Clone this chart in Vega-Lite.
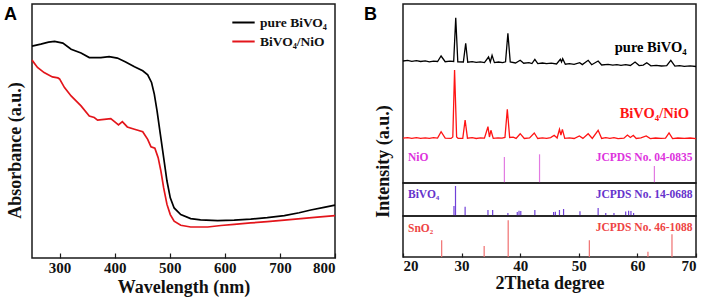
{
  "$schema": "https://vega.github.io/schema/vega-lite/v6.json",
  "padding": {"left": 3, "top": 3, "right": 0, "bottom": 0},
  "background": "white",
  "datasets": {
    "absorb": [
      {"wavelength": 250, "absorbance": 0.834, "sample": "pure BiVO₄"},
      {"wavelength": 266, "absorbance": 0.842, "sample": "pure BiVO₄"},
      {"wavelength": 280, "absorbance": 0.850, "sample": "pure BiVO₄"},
      {"wavelength": 291, "absorbance": 0.853, "sample": "pure BiVO₄"},
      {"wavelength": 306, "absorbance": 0.846, "sample": "pure BiVO₄"},
      {"wavelength": 321, "absorbance": 0.822, "sample": "pure BiVO₄"},
      {"wavelength": 339, "absorbance": 0.807, "sample": "pure BiVO₄"},
      {"wavelength": 354, "absorbance": 0.789, "sample": "pure BiVO₄"},
      {"wavelength": 375, "absorbance": 0.789, "sample": "pure BiVO₄"},
      {"wavelength": 390, "absorbance": 0.793, "sample": "pure BiVO₄"},
      {"wavelength": 405, "absorbance": 0.787, "sample": "pure BiVO₄"},
      {"wavelength": 420, "absorbance": 0.772, "sample": "pure BiVO₄"},
      {"wavelength": 436, "absorbance": 0.753, "sample": "pure BiVO₄"},
      {"wavelength": 451, "absorbance": 0.737, "sample": "pure BiVO₄"},
      {"wavelength": 460, "absorbance": 0.721, "sample": "pure BiVO₄"},
      {"wavelength": 467, "absorbance": 0.691, "sample": "pure BiVO₄"},
      {"wavelength": 472, "absorbance": 0.645, "sample": "pure BiVO₄"},
      {"wavelength": 477, "absorbance": 0.579, "sample": "pure BiVO₄"},
      {"wavelength": 483, "absorbance": 0.487, "sample": "pure BiVO₄"},
      {"wavelength": 489, "absorbance": 0.395, "sample": "pure BiVO₄"},
      {"wavelength": 495, "absorbance": 0.303, "sample": "pure BiVO₄"},
      {"wavelength": 501, "absorbance": 0.237, "sample": "pure BiVO₄"},
      {"wavelength": 508, "absorbance": 0.197, "sample": "pure BiVO₄"},
      {"wavelength": 520, "absorbance": 0.171, "sample": "pure BiVO₄"},
      {"wavelength": 538, "absorbance": 0.155, "sample": "pure BiVO₄"},
      {"wavelength": 556, "absorbance": 0.150, "sample": "pure BiVO₄"},
      {"wavelength": 587, "absorbance": 0.147, "sample": "pure BiVO₄"},
      {"wavelength": 617, "absorbance": 0.149, "sample": "pure BiVO₄"},
      {"wavelength": 647, "absorbance": 0.153, "sample": "pure BiVO₄"},
      {"wavelength": 677, "absorbance": 0.159, "sample": "pure BiVO₄"},
      {"wavelength": 708, "absorbance": 0.167, "sample": "pure BiVO₄"},
      {"wavelength": 735, "absorbance": 0.178, "sample": "pure BiVO₄"},
      {"wavelength": 756, "absorbance": 0.189, "sample": "pure BiVO₄"},
      {"wavelength": 780, "absorbance": 0.199, "sample": "pure BiVO₄"},
      {"wavelength": 800, "absorbance": 0.208, "sample": "pure BiVO₄"},
      {"wavelength": 250, "absorbance": 0.779, "sample": "BiVO₄/NiO"},
      {"wavelength": 260, "absorbance": 0.750, "sample": "BiVO₄/NiO"},
      {"wavelength": 272, "absorbance": 0.730, "sample": "BiVO₄/NiO"},
      {"wavelength": 287, "absorbance": 0.713, "sample": "BiVO₄/NiO"},
      {"wavelength": 297, "absorbance": 0.709, "sample": "BiVO₄/NiO"},
      {"wavelength": 300, "absorbance": 0.705, "sample": "BiVO₄/NiO"},
      {"wavelength": 309, "absorbance": 0.671, "sample": "BiVO₄/NiO"},
      {"wavelength": 321, "absorbance": 0.638, "sample": "BiVO₄/NiO"},
      {"wavelength": 339, "absorbance": 0.599, "sample": "BiVO₄/NiO"},
      {"wavelength": 354, "absorbance": 0.559, "sample": "BiVO₄/NiO"},
      {"wavelength": 363, "absorbance": 0.553, "sample": "BiVO₄/NiO"},
      {"wavelength": 369, "absorbance": 0.543, "sample": "BiVO₄/NiO"},
      {"wavelength": 381, "absorbance": 0.546, "sample": "BiVO₄/NiO"},
      {"wavelength": 393, "absorbance": 0.549, "sample": "BiVO₄/NiO"},
      {"wavelength": 402, "absorbance": 0.533, "sample": "BiVO₄/NiO"},
      {"wavelength": 407, "absorbance": 0.524, "sample": "BiVO₄/NiO"},
      {"wavelength": 414, "absorbance": 0.537, "sample": "BiVO₄/NiO"},
      {"wavelength": 423, "absorbance": 0.516, "sample": "BiVO₄/NiO"},
      {"wavelength": 436, "absorbance": 0.507, "sample": "BiVO₄/NiO"},
      {"wavelength": 451, "absorbance": 0.497, "sample": "BiVO₄/NiO"},
      {"wavelength": 460, "absorbance": 0.467, "sample": "BiVO₄/NiO"},
      {"wavelength": 466, "absorbance": 0.438, "sample": "BiVO₄/NiO"},
      {"wavelength": 473, "absorbance": 0.432, "sample": "BiVO₄/NiO"},
      {"wavelength": 479, "absorbance": 0.395, "sample": "BiVO₄/NiO"},
      {"wavelength": 484, "absorbance": 0.342, "sample": "BiVO₄/NiO"},
      {"wavelength": 489, "absorbance": 0.276, "sample": "BiVO₄/NiO"},
      {"wavelength": 495, "absorbance": 0.211, "sample": "BiVO₄/NiO"},
      {"wavelength": 501, "absorbance": 0.171, "sample": "BiVO₄/NiO"},
      {"wavelength": 508, "absorbance": 0.145, "sample": "BiVO₄/NiO"},
      {"wavelength": 520, "absorbance": 0.129, "sample": "BiVO₄/NiO"},
      {"wavelength": 538, "absorbance": 0.122, "sample": "BiVO₄/NiO"},
      {"wavelength": 569, "absorbance": 0.122, "sample": "BiVO₄/NiO"},
      {"wavelength": 593, "absorbance": 0.128, "sample": "BiVO₄/NiO"},
      {"wavelength": 617, "absorbance": 0.132, "sample": "BiVO₄/NiO"},
      {"wavelength": 647, "absorbance": 0.138, "sample": "BiVO₄/NiO"},
      {"wavelength": 677, "absorbance": 0.143, "sample": "BiVO₄/NiO"},
      {"wavelength": 708, "absorbance": 0.149, "sample": "BiVO₄/NiO"},
      {"wavelength": 738, "absorbance": 0.155, "sample": "BiVO₄/NiO"},
      {"wavelength": 768, "absorbance": 0.161, "sample": "BiVO₄/NiO"},
      {"wavelength": 800, "absorbance": 0.167, "sample": "BiVO₄/NiO"}
    ],
    "xrd": [
      {"theta": 20.0, "intensity": 122.0, "sample": "pure BiVO₄"},
      {"theta": 20.8, "intensity": 122.6, "sample": "pure BiVO₄"},
      {"theta": 21.5, "intensity": 121.6, "sample": "pure BiVO₄"},
      {"theta": 22.3, "intensity": 122.3, "sample": "pure BiVO₄"},
      {"theta": 23.0, "intensity": 121.5, "sample": "pure BiVO₄"},
      {"theta": 23.8, "intensity": 122.1, "sample": "pure BiVO₄"},
      {"theta": 24.5, "intensity": 121.2, "sample": "pure BiVO₄"},
      {"theta": 25.2, "intensity": 121.9, "sample": "pure BiVO₄"},
      {"theta": 25.9, "intensity": 121.5, "sample": "pure BiVO₄"},
      {"theta": 26.5, "intensity": 127.0, "sample": "pure BiVO₄"},
      {"theta": 27.2, "intensity": 121.3, "sample": "pure BiVO₄"},
      {"theta": 28.0, "intensity": 121.8, "sample": "pure BiVO₄"},
      {"theta": 28.65, "intensity": 121.5, "sample": "pure BiVO₄"},
      {"theta": 29.0, "intensity": 165.3, "sample": "pure BiVO₄"},
      {"theta": 29.35, "intensity": 121.2, "sample": "pure BiVO₄"},
      {"theta": 30.3, "intensity": 121.0, "sample": "pure BiVO₄"},
      {"theta": 30.7, "intensity": 139.7, "sample": "pure BiVO₄"},
      {"theta": 31.05, "intensity": 120.8, "sample": "pure BiVO₄"},
      {"theta": 31.8, "intensity": 121.4, "sample": "pure BiVO₄"},
      {"theta": 32.5, "intensity": 120.6, "sample": "pure BiVO₄"},
      {"theta": 33.2, "intensity": 121.2, "sample": "pure BiVO₄"},
      {"theta": 33.9, "intensity": 120.4, "sample": "pure BiVO₄"},
      {"theta": 34.6, "intensity": 126.0, "sample": "pure BiVO₄"},
      {"theta": 34.9, "intensity": 121.0, "sample": "pure BiVO₄"},
      {"theta": 35.2, "intensity": 127.7, "sample": "pure BiVO₄"},
      {"theta": 35.6, "intensity": 120.4, "sample": "pure BiVO₄"},
      {"theta": 36.3, "intensity": 121.0, "sample": "pure BiVO₄"},
      {"theta": 37.0, "intensity": 120.3, "sample": "pure BiVO₄"},
      {"theta": 37.5, "intensity": 121.2, "sample": "pure BiVO₄"},
      {"theta": 37.9, "intensity": 149.7, "sample": "pure BiVO₄"},
      {"theta": 38.3, "intensity": 121.0, "sample": "pure BiVO₄"},
      {"theta": 39.2, "intensity": 120.0, "sample": "pure BiVO₄"},
      {"theta": 40.0, "intensity": 122.7, "sample": "pure BiVO₄"},
      {"theta": 40.6, "intensity": 119.8, "sample": "pure BiVO₄"},
      {"theta": 41.5, "intensity": 120.4, "sample": "pure BiVO₄"},
      {"theta": 42.0, "intensity": 119.5, "sample": "pure BiVO₄"},
      {"theta": 42.5, "intensity": 123.7, "sample": "pure BiVO₄"},
      {"theta": 43.0, "intensity": 119.4, "sample": "pure BiVO₄"},
      {"theta": 43.8, "intensity": 120.0, "sample": "pure BiVO₄"},
      {"theta": 44.5, "intensity": 119.3, "sample": "pure BiVO₄"},
      {"theta": 45.3, "intensity": 119.9, "sample": "pure BiVO₄"},
      {"theta": 46.2, "intensity": 119.0, "sample": "pure BiVO₄"},
      {"theta": 46.85, "intensity": 123.7, "sample": "pure BiVO₄"},
      {"theta": 47.05, "intensity": 121.0, "sample": "pure BiVO₄"},
      {"theta": 47.25, "intensity": 124.3, "sample": "pure BiVO₄"},
      {"theta": 47.7, "intensity": 118.8, "sample": "pure BiVO₄"},
      {"theta": 48.4, "intensity": 119.4, "sample": "pure BiVO₄"},
      {"theta": 49.2, "intensity": 118.6, "sample": "pure BiVO₄"},
      {"theta": 50.15, "intensity": 120.3, "sample": "pure BiVO₄"},
      {"theta": 50.6, "intensity": 118.4, "sample": "pure BiVO₄"},
      {"theta": 51.6, "intensity": 122.7, "sample": "pure BiVO₄"},
      {"theta": 52.2, "intensity": 118.3, "sample": "pure BiVO₄"},
      {"theta": 53.3, "intensity": 122.0, "sample": "pure BiVO₄"},
      {"theta": 53.9, "intensity": 118.0, "sample": "pure BiVO₄"},
      {"theta": 55.0, "intensity": 118.6, "sample": "pure BiVO₄"},
      {"theta": 55.8, "intensity": 117.9, "sample": "pure BiVO₄"},
      {"theta": 56.5, "intensity": 118.4, "sample": "pure BiVO₄"},
      {"theta": 57.2, "intensity": 117.7, "sample": "pure BiVO₄"},
      {"theta": 58.0, "intensity": 118.4, "sample": "pure BiVO₄"},
      {"theta": 58.8, "intensity": 117.5, "sample": "pure BiVO₄"},
      {"theta": 59.6, "intensity": 121.0, "sample": "pure BiVO₄"},
      {"theta": 60.3, "intensity": 117.4, "sample": "pure BiVO₄"},
      {"theta": 61.0, "intensity": 117.9, "sample": "pure BiVO₄"},
      {"theta": 61.6, "intensity": 120.3, "sample": "pure BiVO₄"},
      {"theta": 62.3, "intensity": 117.2, "sample": "pure BiVO₄"},
      {"theta": 63.2, "intensity": 117.7, "sample": "pure BiVO₄"},
      {"theta": 64.1, "intensity": 117.0, "sample": "pure BiVO₄"},
      {"theta": 65.0, "intensity": 117.3, "sample": "pure BiVO₄"},
      {"theta": 65.7, "intensity": 122.7, "sample": "pure BiVO₄"},
      {"theta": 66.4, "intensity": 116.9, "sample": "pure BiVO₄"},
      {"theta": 67.2, "intensity": 117.4, "sample": "pure BiVO₄"},
      {"theta": 68.0, "intensity": 116.7, "sample": "pure BiVO₄"},
      {"theta": 69.0, "intensity": 117.1, "sample": "pure BiVO₄"},
      {"theta": 70.0, "intensity": 116.5, "sample": "pure BiVO₄"},
      {"theta": 20.0, "intensity": 44.8, "sample": "BiVO₄/NiO"},
      {"theta": 20.8, "intensity": 45.4, "sample": "BiVO₄/NiO"},
      {"theta": 21.5, "intensity": 44.7, "sample": "BiVO₄/NiO"},
      {"theta": 22.3, "intensity": 45.3, "sample": "BiVO₄/NiO"},
      {"theta": 23.0, "intensity": 44.6, "sample": "BiVO₄/NiO"},
      {"theta": 23.8, "intensity": 45.2, "sample": "BiVO₄/NiO"},
      {"theta": 24.5, "intensity": 44.7, "sample": "BiVO₄/NiO"},
      {"theta": 25.2, "intensity": 45.3, "sample": "BiVO₄/NiO"},
      {"theta": 25.9, "intensity": 44.9, "sample": "BiVO₄/NiO"},
      {"theta": 26.5, "intensity": 51.3, "sample": "BiVO₄/NiO"},
      {"theta": 27.2, "intensity": 44.8, "sample": "BiVO₄/NiO"},
      {"theta": 28.2, "intensity": 44.6, "sample": "BiVO₄/NiO"},
      {"theta": 28.5, "intensity": 46.0, "sample": "BiVO₄/NiO"},
      {"theta": 28.8, "intensity": 113.0, "sample": "BiVO₄/NiO"},
      {"theta": 29.15, "intensity": 46.0, "sample": "BiVO₄/NiO"},
      {"theta": 29.4, "intensity": 44.7, "sample": "BiVO₄/NiO"},
      {"theta": 30.2, "intensity": 44.6, "sample": "BiVO₄/NiO"},
      {"theta": 30.6, "intensity": 63.0, "sample": "BiVO₄/NiO"},
      {"theta": 31.0, "intensity": 44.8, "sample": "BiVO₄/NiO"},
      {"theta": 31.8, "intensity": 45.3, "sample": "BiVO₄/NiO"},
      {"theta": 32.5, "intensity": 44.5, "sample": "BiVO₄/NiO"},
      {"theta": 33.2, "intensity": 45.2, "sample": "BiVO₄/NiO"},
      {"theta": 33.9, "intensity": 44.9, "sample": "BiVO₄/NiO"},
      {"theta": 34.5, "intensity": 56.3, "sample": "BiVO₄/NiO"},
      {"theta": 34.75, "intensity": 46.0, "sample": "BiVO₄/NiO"},
      {"theta": 35.0, "intensity": 52.7, "sample": "BiVO₄/NiO"},
      {"theta": 35.4, "intensity": 44.6, "sample": "BiVO₄/NiO"},
      {"theta": 36.2, "intensity": 45.2, "sample": "BiVO₄/NiO"},
      {"theta": 36.9, "intensity": 44.8, "sample": "BiVO₄/NiO"},
      {"theta": 37.4, "intensity": 45.5, "sample": "BiVO₄/NiO"},
      {"theta": 37.8, "intensity": 73.7, "sample": "BiVO₄/NiO"},
      {"theta": 38.2, "intensity": 45.5, "sample": "BiVO₄/NiO"},
      {"theta": 38.8, "intensity": 45.9, "sample": "BiVO₄/NiO"},
      {"theta": 39.3, "intensity": 44.6, "sample": "BiVO₄/NiO"},
      {"theta": 40.0, "intensity": 49.3, "sample": "BiVO₄/NiO"},
      {"theta": 40.7, "intensity": 44.5, "sample": "BiVO₄/NiO"},
      {"theta": 41.6, "intensity": 45.0, "sample": "BiVO₄/NiO"},
      {"theta": 42.4, "intensity": 50.0, "sample": "BiVO₄/NiO"},
      {"theta": 43.0, "intensity": 44.5, "sample": "BiVO₄/NiO"},
      {"theta": 43.8, "intensity": 45.1, "sample": "BiVO₄/NiO"},
      {"theta": 44.5, "intensity": 44.7, "sample": "BiVO₄/NiO"},
      {"theta": 45.2, "intensity": 45.4, "sample": "BiVO₄/NiO"},
      {"theta": 45.8, "intensity": 47.7, "sample": "BiVO₄/NiO"},
      {"theta": 46.3, "intensity": 45.0, "sample": "BiVO₄/NiO"},
      {"theta": 46.7, "intensity": 53.7, "sample": "BiVO₄/NiO"},
      {"theta": 46.95, "intensity": 48.0, "sample": "BiVO₄/NiO"},
      {"theta": 47.2, "intensity": 53.7, "sample": "BiVO₄/NiO"},
      {"theta": 47.6, "intensity": 44.6, "sample": "BiVO₄/NiO"},
      {"theta": 48.4, "intensity": 45.2, "sample": "BiVO₄/NiO"},
      {"theta": 49.2, "intensity": 44.5, "sample": "BiVO₄/NiO"},
      {"theta": 50.1, "intensity": 47.0, "sample": "BiVO₄/NiO"},
      {"theta": 50.7, "intensity": 44.6, "sample": "BiVO₄/NiO"},
      {"theta": 51.6, "intensity": 49.3, "sample": "BiVO₄/NiO"},
      {"theta": 52.3, "intensity": 44.6, "sample": "BiVO₄/NiO"},
      {"theta": 53.3, "intensity": 52.7, "sample": "BiVO₄/NiO"},
      {"theta": 53.9, "intensity": 44.5, "sample": "BiVO₄/NiO"},
      {"theta": 54.6, "intensity": 45.3, "sample": "BiVO₄/NiO"},
      {"theta": 55.3, "intensity": 44.7, "sample": "BiVO₄/NiO"},
      {"theta": 56.0, "intensity": 45.4, "sample": "BiVO₄/NiO"},
      {"theta": 56.7, "intensity": 44.4, "sample": "BiVO₄/NiO"},
      {"theta": 57.7, "intensity": 44.8, "sample": "BiVO₄/NiO"},
      {"theta": 58.3, "intensity": 48.0, "sample": "BiVO₄/NiO"},
      {"theta": 58.8, "intensity": 45.5, "sample": "BiVO₄/NiO"},
      {"theta": 59.3, "intensity": 47.7, "sample": "BiVO₄/NiO"},
      {"theta": 59.8, "intensity": 44.5, "sample": "BiVO₄/NiO"},
      {"theta": 60.6, "intensity": 45.1, "sample": "BiVO₄/NiO"},
      {"theta": 61.5, "intensity": 47.0, "sample": "BiVO₄/NiO"},
      {"theta": 62.2, "intensity": 44.4, "sample": "BiVO₄/NiO"},
      {"theta": 63.1, "intensity": 45.0, "sample": "BiVO₄/NiO"},
      {"theta": 64.0, "intensity": 44.6, "sample": "BiVO₄/NiO"},
      {"theta": 64.8, "intensity": 44.8, "sample": "BiVO₄/NiO"},
      {"theta": 65.4, "intensity": 50.0, "sample": "BiVO₄/NiO"},
      {"theta": 66.0, "intensity": 44.4, "sample": "BiVO₄/NiO"},
      {"theta": 66.9, "intensity": 45.0, "sample": "BiVO₄/NiO"},
      {"theta": 68.0, "intensity": 44.6, "sample": "BiVO₄/NiO"},
      {"theta": 69.0, "intensity": 45.0, "sample": "BiVO₄/NiO"},
      {"theta": 70.0, "intensity": 44.3, "sample": "BiVO₄/NiO"}
    ],
    "xrdLabels": [
      {"sample": "pure BiVO₄", "theta": 68.4, "intensity": 135},
      {"sample": "BiVO₄/NiO", "theta": 68.8, "intensity": 69}
    ],
    "nio": [
      {"theta": 37.3, "intensity": 26},
      {"theta": 43.3, "intensity": 28.7},
      {"theta": 62.9, "intensity": 17}
    ],
    "bivo4": [
      {"theta": 28.7, "intensity": 10},
      {"theta": 28.96, "intensity": 30},
      {"theta": 30.6, "intensity": 9.3},
      {"theta": 34.5, "intensity": 6},
      {"theta": 35.3, "intensity": 6},
      {"theta": 37.9, "intensity": 3},
      {"theta": 39.5, "intensity": 4},
      {"theta": 39.8, "intensity": 5.3},
      {"theta": 40.1, "intensity": 5},
      {"theta": 42.5, "intensity": 6},
      {"theta": 45.7, "intensity": 4},
      {"theta": 46.0, "intensity": 4.3},
      {"theta": 46.7, "intensity": 6},
      {"theta": 47.4, "intensity": 7},
      {"theta": 50.2, "intensity": 4.7},
      {"theta": 53.3, "intensity": 8},
      {"theta": 54.6, "intensity": 3},
      {"theta": 56.0, "intensity": 3},
      {"theta": 58.0, "intensity": 4.5},
      {"theta": 58.5, "intensity": 5.3},
      {"theta": 58.9, "intensity": 5},
      {"theta": 59.35, "intensity": 3}
    ],
    "sno2": [
      {"theta": 26.6, "intensity": 16.7},
      {"theta": 33.85, "intensity": 11},
      {"theta": 37.95, "intensity": 36.7},
      {"theta": 51.8, "intensity": 16.7},
      {"theta": 61.8, "intensity": 5.3},
      {"theta": 65.9, "intensity": 22.7}
    ],
    "cards": [
      {"panel": "NiO", "text": "NiO", "side": "left", "theta": 20.85, "level": 25},
      {"panel": "NiO", "text": "JCPDS No. 04-0835", "side": "right", "theta": 69.4, "level": 25},
      {"panel": "BiVO4", "text": "BiVO₄", "side": "left", "theta": 20.85, "level": 21},
      {"panel": "BiVO4", "text": "JCPDS No. 14-0688", "side": "right", "theta": 69.4, "level": 21},
      {"panel": "SnO2", "text": "SnO₂", "side": "left", "theta": 20.85, "level": 28},
      {"panel": "SnO2", "text": "JCPDS No. 46-1088", "side": "right", "theta": 69.4, "level": 29}
    ]
  },
  "config": {
    "view": {"stroke": "#1a1a1a", "strokeWidth": 1.5},
    "axis": {
      "domain": false, "grid": false,
      "labelFont": "Liberation Serif", "labelFontWeight": "bold", "labelFontSize": 15, "labelColor": "#111",
      "titleFont": "Liberation Serif", "titleFontWeight": "bold", "titleFontSize": 18, "titleColor": "#111",
      "tickColor": "#1a1a1a", "tickWidth": 1.2
    },
    "title": {"font": "Liberation Sans", "fontWeight": "bold", "fontSize": 18, "color": "#000", "anchor": "start", "frame": "group", "orient": "top", "offset": -20},
    "text": {"font": "Liberation Serif", "fontWeight": "bold"}
  },
  "bounds": "flush",
  "spacing": 68,
  "resolve": {"scale": {"x": "independent", "y": "independent", "color": "independent"}},
  "hconcat": [
    {
      "width": 303, "height": 254,
      "title": {"text": "A", "dx": -28},
      "data": {"name": "absorb"},
      "mark": {"type": "line", "strokeWidth": 1.7},
      "encoding": {
        "x": {"field": "wavelength", "type": "quantitative", "scale": {"domain": [250, 800], "nice": false, "zero": false},
              "axis": {"values": [300, 400, 500, 600, 700, 800], "tickSize": -5, "labelPadding": 7, "title": "Wavelength (nm)", "titlePadding": 3}},
        "y": {"field": "absorbance", "type": "quantitative", "scale": {"domain": [0, 1], "nice": false},
              "axis": {"labels": false, "ticks": false, "title": "Absorbance (a.u.)", "titleX": -8, "titleY": 146}},
        "color": {"field": "sample", "type": "nominal",
                  "scale": {"domain": ["pure BiVO₄", "BiVO₄/NiO"], "range": ["#000000", "#e3151b"]},
                  "legend": {"title": null, "orient": "none", "legendX": 199, "legendY": 6, "symbolType": "stroke", "symbolSize": 500, "symbolStrokeWidth": 2,
                             "labelFont": "Liberation Serif", "labelFontWeight": "bold", "labelFontSize": 13.5, "labelColor": "#111", "rowPadding": -4, "labelOffset": 4}}
      }
    },
    {
      "bounds": "flush",
      "spacing": 0,
      "resolve": {"scale": {"x": "independent", "y": "independent", "color": "independent"}},
      "vconcat": [
        {
          "width": 293, "height": 179,
          "title": {"text": "B", "dx": -39},
          "layer": [
            {
              "data": {"name": "xrd"},
              "mark": {"type": "line", "strokeWidth": 1.3},
              "encoding": {
                "x": {"field": "theta", "type": "quantitative", "scale": {"domain": [20, 70], "nice": false, "zero": false}, "axis": null},
                "y": {"field": "intensity", "type": "quantitative", "scale": {"domain": [0, 179], "nice": false},
                      "axis": {"labels": false, "ticks": false, "title": "Intensity (a.u.)", "titleX": -11, "titleY": 157}},
                "color": {"field": "sample", "type": "nominal", "scale": {"domain": ["pure BiVO₄", "BiVO₄/NiO"], "range": ["#000000", "#ff1414"]}, "legend": null}
              }
            },
            {
              "data": {"name": "xrdLabels"},
              "mark": {"type": "text", "align": "right", "fontSize": 14.5},
              "encoding": {
                "x": {"field": "theta", "type": "quantitative"},
                "y": {"field": "intensity", "type": "quantitative"},
                "text": {"field": "sample"},
                "color": {"field": "sample", "type": "nominal", "legend": null}
              }
            },
            {
              "data": {"name": "nio"},
              "mark": {"type": "rule", "color": "#e27ae2", "strokeWidth": 1.2},
              "encoding": {
                "x": {"field": "theta", "type": "quantitative"},
                "y": {"field": "intensity", "type": "quantitative"},
                "y2": {"datum": 0}
              }
            },
            {
              "data": {"name": "cards"},
              "transform": [{"filter": "datum.panel === 'NiO' && datum.side === 'left'"}],
              "mark": {"type": "text", "align": "left", "fontSize": 11.5, "color": "#dd33dd"},
              "encoding": {"x": {"field": "theta", "type": "quantitative"}, "y": {"field": "level", "type": "quantitative"}, "text": {"field": "text"}}
            },
            {
              "data": {"name": "cards"},
              "transform": [{"filter": "datum.panel === 'NiO' && datum.side === 'right'"}],
              "mark": {"type": "text", "align": "right", "fontSize": 11.5, "color": "#dd33dd"},
              "encoding": {"x": {"field": "theta", "type": "quantitative"}, "y": {"field": "level", "type": "quantitative"}, "text": {"field": "text"}}
            }
          ]
        },
        {
          "width": 293, "height": 33,
          "layer": [
            {
              "data": {"name": "bivo4"},
              "mark": {"type": "rule", "color": "#7040d8", "strokeWidth": 1.2},
              "encoding": {
                "x": {"field": "theta", "type": "quantitative", "scale": {"domain": [20, 70], "nice": false, "zero": false}, "axis": null},
                "y": {"field": "intensity", "type": "quantitative", "scale": {"domain": [0, 33], "nice": false}, "axis": null},
                "y2": {"datum": 0}
              }
            },
            {
              "data": {"name": "cards"},
              "transform": [{"filter": "datum.panel === 'BiVO4' && datum.side === 'left'"}],
              "mark": {"type": "text", "align": "left", "fontSize": 11.5, "color": "#6633cc"},
              "encoding": {"x": {"field": "theta", "type": "quantitative"}, "y": {"field": "level", "type": "quantitative"}, "text": {"field": "text"}}
            },
            {
              "data": {"name": "cards"},
              "transform": [{"filter": "datum.panel === 'BiVO4' && datum.side === 'right'"}],
              "mark": {"type": "text", "align": "right", "fontSize": 11.5, "color": "#6633cc"},
              "encoding": {"x": {"field": "theta", "type": "quantitative"}, "y": {"field": "level", "type": "quantitative"}, "text": {"field": "text"}}
            }
          ]
        },
        {
          "width": 293, "height": 41,
          "layer": [
            {
              "data": {"name": "sno2"},
              "mark": {"type": "rule", "color": "#f07070", "strokeWidth": 1.2},
              "encoding": {
                "x": {"field": "theta", "type": "quantitative", "scale": {"domain": [20, 70], "nice": false, "zero": false},
                      "axis": {"values": [20, 30, 40, 50, 60, 70], "tickSize": -4, "labelPadding": 5, "title": "2Theta degree", "titlePadding": 1}},
                "y": {"field": "intensity", "type": "quantitative", "scale": {"domain": [0, 41], "nice": false}, "axis": null},
                "y2": {"datum": 0}
              }
            },
            {
              "data": {"name": "cards"},
              "transform": [{"filter": "datum.panel === 'SnO2' && datum.side === 'left'"}],
              "mark": {"type": "text", "align": "left", "fontSize": 11.5, "color": "#ee4444"},
              "encoding": {"x": {"field": "theta", "type": "quantitative"}, "y": {"field": "level", "type": "quantitative"}, "text": {"field": "text"}}
            },
            {
              "data": {"name": "cards"},
              "transform": [{"filter": "datum.panel === 'SnO2' && datum.side === 'right'"}],
              "mark": {"type": "text", "align": "right", "fontSize": 11.5, "color": "#ee4444"},
              "encoding": {"x": {"field": "theta", "type": "quantitative"}, "y": {"field": "level", "type": "quantitative"}, "text": {"field": "text"}}
            }
          ]
        }
      ]
    }
  ]
}
